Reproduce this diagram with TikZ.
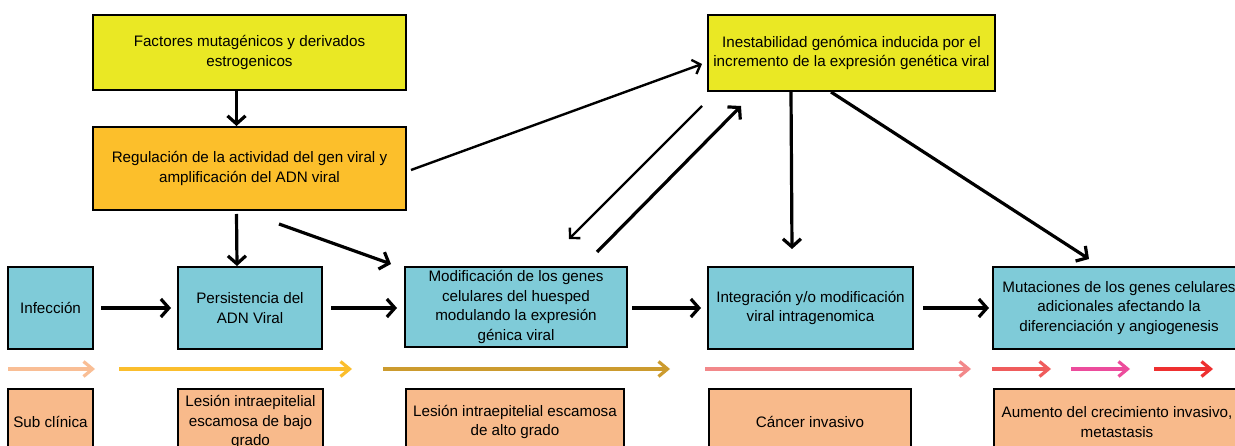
\documentclass[tikz,border=0pt]{standalone}
\usepackage{fontspec}
\setmainfont{Liberation Sans}
\usepackage{tikz}
\usetikzlibrary{arrows.meta,calc}

\definecolor{amarillo}{HTML}{EAE824}
\definecolor{naranja}{HTML}{FCBF2B}
\definecolor{celeste}{HTML}{7FCBD8}
\definecolor{salmon}{HTML}{F8BA8B}

\tikzset{
  box/.style={draw,line width=2pt,inner sep=0pt,align=center,
    font=\fontsize{15.2}{19.5}\selectfont},
  blk/.style={line width=3.2pt,-{Straight Barb[length=8pt,width=18pt]}},
  thinblk/.style={line width=2.4pt,-{Straight Barb[length=7pt,width=15pt]}},
  stage/.style={line width=3.2pt,-{Straight Barb[length=9pt,width=15pt]}}
}

\begin{document}
\begin{tikzpicture}[x=1pt,y=-1pt]
		%%
		\useasboundingbox (0,0) rectangle (1235,446);
		\clip (0,0) rectangle (1235,446);
		\node (fact) at (249.5,52.5) [box,fill=amarillo,minimum width=313,minimum height=75] {Factores mutagénicos y derivados\\estrogenicos};
		  \node (regul) at (249.5,168.5) [box,fill=naranja,minimum width=313,minimum height=83] {Regulación de la actividad del gen viral y\\amplificación del ADN viral};
		  \node (inest) at (851.5,53) [box,fill=amarillo,minimum width=287,minimum height=76] {Inestabilidad genómica inducida por el\\incremento de la expresión genética viral};
		  \node (infec) at (50.5,308) [box,fill=celeste,minimum width=85,minimum height=82] {Infección};
		  \node (persis) at (250,308) [box,fill=celeste,minimum width=144,minimum height=82] {Persistencia del\\ADN Viral};
		  \node (modif) at (516,307) [box,fill=celeste,minimum width=222,minimum height=80] {Modificación de los genes\\celulares del huesped\\modulando la expresión\\génica viral};
		  \node (integ) at (810.5,308) [box,fill=celeste,minimum width=205,minimum height=82] {Integración y/o modificación\\viral intragenomica};
		  \node (mutac) at (1119,308) [box,fill=celeste,minimum width=252,minimum height=82] {Mutaciones de los genes celulares\\adicionales afectando la\\diferenciación y angiogenesis};
		  %
		  \node (sub) at (50.5,422) [box,fill=salmon,minimum width=85,minimum height=66] {Sub clínica};
		  \node (bajo) at (250.5,422) [box,fill=salmon,minimum width=145,minimum height=66] {Lesión intraepitelial\\escamosa de bajo\\grado};
		  \node (alto) at (515,422) [box,fill=salmon,minimum width=218,minimum height=66] {Lesión intraepitelial escamosa\\de alto grado};
		  \node (cancer) at (810,422) [box,fill=salmon,minimum width=202,minimum height=66] {Cáncer invasivo};
		  \node (aumento) at (1117,422) [box,fill=salmon,minimum width=246,minimum height=66] {Aumento del crecimiento invasivo,\\metastasis};
		  %
		  \draw [blk] ($(fact.south)+(-13,0)$) -- ($(regul.north)+(-13,0)$);
		  \draw [blk] ($(regul.south)+(-13,3)$) -- ($(persis.north)+(-13,0)$);
		  \draw [blk] ($(regul.south)+(29.5,13)$) -- ($(modif.north west)+(-13,-2)$);
		  \draw [thinblk] ($(regul.east)+(4,1.5)$) -- ($(inest.west)+(-5,11)$);
		  \draw [thinblk] ($(inest.south west)+(-5,14)$) -- ($(modif.north)+(53,-27)$);
		  \draw [blk] ($(modif.north)+(81,-14)$) -- ($(inest.south west)+(34,14)$);
		  \draw [blk] ($(inest.south west)+(84,0)$) -- ($(integ.north)+(-18.5,-17)$);
		  \draw [blk] ($(inest.south west)+(124,0)$) -- ($(mutac.north west)+(97,-7)$);
		  \draw [blk,shorten <=7pt,shorten >=6pt] (infec) -- (persis);
		  \draw [blk,shorten <=8pt,shorten >=7pt] (persis.east) -- (persis.east -| modif.west);
		  \draw [blk,shorten <=4pt,shorten >=6pt] (modif.east |- integ) -- (integ.west);
		  \draw [blk,shorten <=9pt,shorten >=3pt] (integ) -- (mutac);
		  %
		  \foreach \xa/\xb/\col in {8/95/F9BE95, 119/352/FBBE2D, 383/670/CC9B2E, 705/971/F2888A,
		      992/1051/EF5C5C, 1071/1130/EC4C9C, 1154/1213/EE3030}
		    {\definecolor{tmp}{HTML}{\col}
		     \draw [stage,tmp] (\xa,369) -- (\xb,369);}
		%
	\end{tikzpicture}
\end{document}
